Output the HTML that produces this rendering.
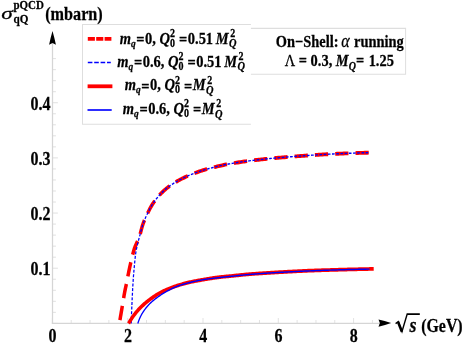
<!DOCTYPE html>
<html><head><meta charset="utf-8"><style>
html,body{margin:0;padding:0;background:#fff;}
svg{display:block;font-family:"Liberation Serif",serif;}
text{filter:grayscale(1);stroke:#000;stroke-width:0.22px;}
</style></head><body>
<svg width="463" height="344" viewBox="0 0 463 344">
<rect width="463" height="344" fill="#fff"/>
<g transform="scale(1,1.1)">
<g stroke="#e3e3e3" stroke-width="1" fill="none">
<line x1="52.40" y1="294.0" x2="52.40" y2="289.0"/><line x1="71.22" y1="294.0" x2="71.22" y2="290.82"/><line x1="90.05" y1="294.0" x2="90.05" y2="290.82"/><line x1="108.88" y1="294.0" x2="108.88" y2="290.82"/><line x1="127.70" y1="294.0" x2="127.70" y2="289.0"/><line x1="146.53" y1="294.0" x2="146.53" y2="290.82"/><line x1="165.35" y1="294.0" x2="165.35" y2="290.82"/><line x1="184.18" y1="294.0" x2="184.18" y2="290.82"/><line x1="203.00" y1="294.0" x2="203.00" y2="289.0"/><line x1="221.82" y1="294.0" x2="221.82" y2="290.82"/><line x1="240.65" y1="294.0" x2="240.65" y2="290.82"/><line x1="259.47" y1="294.0" x2="259.47" y2="290.82"/><line x1="278.30" y1="294.0" x2="278.30" y2="289.0"/><line x1="297.12" y1="294.0" x2="297.12" y2="290.82"/><line x1="315.95" y1="294.0" x2="315.95" y2="290.82"/><line x1="334.77" y1="294.0" x2="334.77" y2="290.82"/><line x1="353.60" y1="294.0" x2="353.60" y2="289.0"/><line x1="372.42" y1="294.0" x2="372.42" y2="290.82"/><line x1="52.4" y1="294.0" x2="57.9" y2="294.0"/><line x1="52.4" y1="283.97" x2="55.9" y2="283.97"/><line x1="52.4" y1="273.94" x2="55.9" y2="273.94"/><line x1="52.4" y1="263.91" x2="55.9" y2="263.91"/><line x1="52.4" y1="253.88" x2="55.9" y2="253.88"/><line x1="52.4" y1="243.85" x2="57.9" y2="243.85"/><line x1="52.4" y1="233.81" x2="55.9" y2="233.81"/><line x1="52.4" y1="223.78" x2="55.9" y2="223.78"/><line x1="52.4" y1="213.75" x2="55.9" y2="213.75"/><line x1="52.4" y1="203.72" x2="55.9" y2="203.72"/><line x1="52.4" y1="193.69" x2="57.9" y2="193.69"/><line x1="52.4" y1="183.66" x2="55.9" y2="183.66"/><line x1="52.4" y1="173.63" x2="55.9" y2="173.63"/><line x1="52.4" y1="163.6" x2="55.9" y2="163.6"/><line x1="52.4" y1="153.57" x2="55.9" y2="153.57"/><line x1="52.4" y1="143.54" x2="57.9" y2="143.54"/><line x1="52.4" y1="133.51" x2="55.9" y2="133.51"/><line x1="52.4" y1="123.47" x2="55.9" y2="123.47"/><line x1="52.4" y1="113.44" x2="55.9" y2="113.44"/><line x1="52.4" y1="103.41" x2="55.9" y2="103.41"/><line x1="52.4" y1="93.38" x2="57.9" y2="93.38"/><line x1="52.4" y1="83.35" x2="55.9" y2="83.35"/><line x1="52.4" y1="73.32" x2="55.9" y2="73.32"/><line x1="52.4" y1="63.29" x2="55.9" y2="63.29"/><line x1="52.4" y1="53.26" x2="55.9" y2="53.26"/>
</g>
<g stroke="#d5d5d5" fill="none">
<line x1="51.8" y1="294.0" x2="379" y2="294.0" stroke-width="1.05"/>
<line x1="52.5" y1="294.0" x2="52.5" y2="39.09" stroke-width="1.25"/>
</g>
<path d="M52.5,28.09 Q54.699999999999996,35.0 55.9,40.73 L52.5,39.18 L49.1,40.73 Q50.3,35.0 52.5,28.09 Z" fill="#000"/>
<path d="M391.2,293.73 Q384.5,291.55 378.5,290.36 L379.8,293.73 L378.5,297.09 Q384.5,295.91 391.2,293.73 Z" fill="#000"/>
<g font-weight="bold" fill="#000"><text transform="translate(52.6,310.64) scale(1,1.045)" font-size="16px" text-anchor="middle" >0</text><text transform="translate(127.9,310.64) scale(1,1.045)" font-size="16px" text-anchor="middle" >2</text><text transform="translate(203.2,310.64) scale(1,1.045)" font-size="16px" text-anchor="middle" >4</text><text transform="translate(278.5,310.64) scale(1,1.045)" font-size="16px" text-anchor="middle" >6</text><text transform="translate(353.8,310.64) scale(1,1.045)" font-size="16px" text-anchor="middle" >8</text><text transform="translate(50.6,250.09) scale(1,1.045)" font-size="16px" text-anchor="end" >0.1</text><text transform="translate(50.6,200.0) scale(1,1.045)" font-size="16px" text-anchor="end" >0.2</text><text transform="translate(50.6,149.82) scale(1,1.045)" font-size="16px" text-anchor="end" >0.3</text><text transform="translate(50.6,99.64) scale(1,1.045)" font-size="16px" text-anchor="end" >0.4</text></g>
<!-- curves -->
<path d="M119.90,291.09 L120.14,289.80 L120.39,288.52 L120.63,287.23 L120.88,285.94 L121.12,284.65 L121.36,283.37 L121.60,282.08 L121.84,280.79 L122.09,279.50 L122.33,278.22 L122.57,276.93 L122.80,275.64 L123.03,274.35 L123.26,273.06 L123.49,271.77 L123.73,270.48 L123.96,269.19 L124.21,267.90 L124.46,266.62 L124.72,265.34 L125.00,264.06 L125.30,262.78 L125.60,261.51 L125.91,260.23 L126.21,258.95 L126.49,257.68 L126.77,256.40 L127.05,255.11 L127.32,253.83 L127.59,252.55 L127.86,251.27 L128.13,249.99 L128.41,248.70 L128.69,247.43 L128.98,246.15 L129.28,244.87 L129.58,243.60 L129.89,242.32 L130.20,241.05 L130.51,239.77 L130.82,238.49 L131.14,237.21 L131.46,235.93 L131.79,234.66 L132.13,233.39 L132.48,232.12 L132.84,230.86 L133.22,229.61 L133.61,228.37 L134.01,227.13 L134.44,225.90 L134.90,224.69 L135.42,223.50 L136.00,222.32 L136.62,221.16 L137.24,219.99 L137.84,218.82 L138.42,217.64 L138.93,216.44 L139.39,215.22 L139.81,213.99 L140.20,212.73 L140.57,211.47 L140.93,210.21 L141.29,208.94 L141.66,207.68 L142.04,206.42 L142.45,205.18 L142.88,203.95 L143.36,202.74 L143.86,201.53 L144.39,200.33 L144.94,199.14 L145.51,197.95 L146.10,196.78 L146.70,195.61 L147.31,194.45 L147.92,193.30 L148.55,192.15 L149.20,191.00 L149.85,189.86 L150.53,188.73 L151.22,187.61 L151.94,186.51 L152.67,185.43 L153.43,184.37 L154.21,183.34 L155.03,182.32 L155.88,181.31 L156.75,180.32 L157.64,179.34 L158.54,178.39 L159.46,177.46 L160.39,176.54 L161.34,175.64 L162.31,174.76 L163.30,173.89 L164.31,173.05 L165.33,172.22 L166.37,171.43 L167.42,170.66 L168.49,169.91 L169.58,169.18 L170.68,168.46 L171.80,167.77 L172.92,167.09 L174.06,166.43 L175.21,165.79 L176.36,165.17 L177.51,164.56 L178.68,163.98 L179.86,163.40 L181.05,162.84 L182.24,162.29 L183.44,161.76 L184.65,161.24 L185.86,160.73 L187.07,160.23 L188.28,159.75 L189.50,159.27 L190.73,158.81 L191.95,158.35 L193.19,157.91 L194.43,157.48 L195.67,157.05 L196.92,156.64 L198.16,156.24 L199.41,155.85 L200.66,155.47 L201.92,155.09 L203.18,154.73 L204.44,154.38 L205.71,154.04 L206.98,153.71 L208.25,153.39 L209.52,153.08 L210.79,152.78 L212.07,152.48 L213.35,152.18 L214.62,151.89 L215.90,151.60 L217.18,151.32 L218.47,151.04 L219.75,150.77 L221.03,150.50 L222.32,150.24 L223.61,149.99 L224.89,149.75 L226.18,149.51 L227.47,149.29 L228.76,149.07 L230.05,148.86 L231.34,148.66 L232.64,148.46 L233.93,148.26 L235.23,148.07 L236.52,147.88 L237.82,147.70 L239.12,147.52 L240.42,147.34 L241.72,147.17 L243.02,147.00 L244.32,146.83 L245.62,146.67 L246.92,146.51 L248.22,146.35 L249.53,146.20 L250.83,146.05 L252.13,145.90 L253.43,145.76 L254.74,145.62 L256.04,145.48 L257.34,145.34 L258.65,145.21 L259.95,145.08 L261.25,144.95 L262.55,144.82 L263.86,144.70 L265.16,144.57 L266.47,144.45 L267.77,144.33 L269.08,144.21 L270.38,144.10 L271.69,143.98 L272.99,143.87 L274.30,143.76 L275.60,143.65 L276.91,143.54 L278.22,143.43 L279.52,143.33 L280.83,143.23 L282.13,143.12 L283.44,143.02 L284.75,142.92 L286.06,142.83 L287.36,142.73 L288.67,142.63 L289.98,142.54 L291.28,142.45 L292.59,142.36 L293.90,142.26 L295.20,142.17 L296.51,142.09 L297.82,142.00 L299.13,141.91 L300.43,141.83 L301.74,141.74 L303.05,141.65 L304.35,141.57 L305.66,141.49 L306.97,141.40 L308.28,141.32 L309.59,141.24 L310.89,141.16 L312.20,141.08 L313.51,141.00 L314.82,140.92 L316.13,140.84 L317.43,140.77 L318.74,140.69 L320.05,140.62 L321.36,140.55 L322.67,140.48 L323.98,140.41 L325.28,140.34 L326.59,140.27 L327.90,140.21 L329.21,140.14 L330.52,140.08 L331.83,140.02 L333.14,139.96 L334.44,139.91 L335.75,139.85 L337.06,139.80 L338.37,139.75 L339.68,139.70 L340.99,139.65 L342.30,139.60 L343.61,139.55 L344.92,139.50 L346.23,139.45 L347.53,139.40 L348.84,139.36 L350.15,139.31 L351.46,139.27 L352.77,139.23 L354.08,139.18 L355.39,139.14 L356.70,139.10 L358.01,139.06 L359.32,139.03 L360.63,138.99 L361.94,138.96 L363.25,138.92 L364.56,138.89 L365.87,138.86 L367.18,138.83 L368.49,138.80 L369.80,138.77" fill="none" stroke="#f00" stroke-width="3.5" stroke-dasharray="13.25,7.07"/>
<path d="M131.20,294.00 L131.25,292.69 L131.30,291.38 L131.35,290.06 L131.40,288.75 L131.45,287.44 L131.50,286.13 L131.56,284.81 L131.61,283.50 L131.67,282.19 L131.73,280.88 L131.79,279.57 L131.85,278.25 L131.92,276.94 L131.98,275.63 L132.04,274.32 L132.11,273.01 L132.17,271.70 L132.24,270.38 L132.31,269.07 L132.38,267.76 L132.45,266.45 L132.53,265.14 L132.60,263.83 L132.68,262.51 L132.76,261.20 L132.84,259.89 L132.92,258.58 L133.01,257.27 L133.10,255.96 L133.19,254.65 L133.29,253.34 L133.39,252.04 L133.50,250.73 L133.62,249.42 L133.74,248.11 L133.86,246.80 L133.99,245.50 L134.12,244.19 L134.25,242.88 L134.39,241.58 L134.52,240.27 L134.66,238.96 L134.79,237.65 L134.93,236.35 L135.08,235.04 L135.23,233.73 L135.40,232.43 L135.58,231.13 L135.78,229.84 L136.01,228.55 L136.27,227.26 L136.55,225.98 L136.85,224.69 L137.16,223.42 L137.48,222.14 L137.81,220.88 L138.17,219.61 L138.55,218.35 L138.93,217.10 L139.31,215.84 L139.69,214.58 L140.06,213.32 L140.42,212.05 L140.77,210.78 L141.13,209.51 L141.49,208.25 L141.87,206.99 L142.27,205.74 L142.69,204.50 L143.14,203.28 L143.62,202.06 L144.14,200.86 L144.68,199.66 L145.25,198.47 L145.83,197.29 L146.44,196.11 L147.04,194.95 L147.66,193.79 L148.28,192.64 L148.92,191.48 L149.57,190.34 L150.24,189.20 L150.93,188.07 L151.64,186.96 L152.36,185.87 L153.11,184.80 L153.89,183.76 L154.69,182.73 L155.53,181.71 L156.39,180.71 L157.28,179.73 L158.18,178.77 L159.10,177.82 L160.03,176.90 L160.97,175.99 L161.93,175.10 L162.92,174.22 L163.92,173.37 L164.94,172.53 L165.98,171.72 L167.03,170.94 L168.09,170.19 L169.17,169.45 L170.27,168.72 L171.39,168.02 L172.51,167.33 L173.65,166.66 L174.80,166.01 L175.95,165.39 L177.10,164.78 L178.27,164.18 L179.45,163.60 L180.63,163.03 L181.83,162.48 L183.03,161.94 L184.24,161.41 L185.45,160.90 L186.66,160.40 L187.88,159.91 L189.10,159.43 L190.32,158.96 L191.55,158.50 L192.79,158.05 L194.03,157.61 L195.27,157.19 L196.52,156.77 L197.77,156.36 L199.02,155.97 L200.28,155.58 L201.53,155.21 L202.80,154.84 L204.06,154.49 L205.33,154.14 L206.60,153.81 L207.87,153.48 L209.15,153.17 L210.42,152.86 L211.70,152.56 L212.98,152.26 L214.26,151.97 L215.54,151.68 L216.83,151.39 L218.11,151.11 L219.40,150.84 L220.69,150.57 L221.97,150.31 L223.26,150.06 L224.55,149.81 L225.85,149.57 L227.14,149.35 L228.43,149.13 L229.72,148.92 L231.02,148.71 L232.32,148.51 L233.61,148.31 L234.91,148.12 L236.21,147.93 L237.51,147.74 L238.81,147.56 L240.11,147.38 L241.41,147.21 L242.72,147.04 L244.02,146.87 L245.33,146.71 L246.63,146.55 L247.94,146.39 L249.24,146.23 L250.55,146.08 L251.85,145.93 L253.16,145.79 L254.47,145.65 L255.77,145.51 L257.08,145.37 L258.38,145.23 L259.69,145.10 L260.99,144.97 L262.30,144.85 L263.61,144.72 L264.91,144.60 L266.22,144.47 L267.53,144.35 L268.84,144.23 L270.15,144.12 L271.45,144.00 L272.76,143.89 L274.07,143.78 L275.38,143.67 L276.69,143.56 L278.00,143.45 L279.31,143.35 L280.62,143.24 L281.93,143.14 L283.24,143.04 L284.55,142.94 L285.86,142.84 L287.17,142.74 L288.48,142.65 L289.79,142.55 L291.10,142.46 L292.41,142.37 L293.72,142.28 L295.03,142.19 L296.34,142.10 L297.65,142.01 L298.96,141.92 L300.27,141.84 L301.58,141.75 L302.89,141.66 L304.20,141.58 L305.51,141.50 L306.82,141.41 L308.13,141.33 L309.44,141.25 L310.75,141.17 L312.06,141.08 L313.38,141.01 L314.69,140.93 L316.00,140.85 L317.31,140.77 L318.62,140.70 L319.93,140.63 L321.24,140.55 L322.55,140.48 L323.87,140.41 L325.18,140.34 L326.49,140.28 L327.80,140.21 L329.11,140.15 L330.42,140.09 L331.74,140.03 L333.05,139.97 L334.36,139.91 L335.67,139.86 L336.98,139.80 L338.30,139.75 L339.61,139.70 L340.92,139.65 L342.23,139.60 L343.54,139.55 L344.86,139.50 L346.17,139.45 L347.48,139.41 L348.79,139.36 L350.11,139.31 L351.42,139.27 L352.73,139.23 L354.04,139.19 L355.36,139.14 L356.67,139.10 L357.98,139.07 L359.30,139.03 L360.61,138.99 L361.92,138.96 L363.23,138.92 L364.55,138.89 L365.86,138.86 L367.17,138.83 L368.49,138.80 L369.80,138.77" fill="none" stroke="#00f" stroke-width="1.25" stroke-dasharray="2.7,1.5"/>
<path d="M128.60,294.00 L129.14,293.15 L129.69,292.30 L130.26,291.46 L130.83,290.64 L131.41,289.82 L132.01,289.01 L132.61,288.22 L133.23,287.43 L133.85,286.65 L134.48,285.89 L135.13,285.14 L135.78,284.39 L136.44,283.66 L137.11,282.94 L137.79,282.23 L138.49,281.53 L139.20,280.83 L139.93,280.14 L140.67,279.46 L141.41,278.79 L142.17,278.12 L142.94,277.47 L143.71,276.83 L144.49,276.19 L145.28,275.57 L146.07,274.97 L146.86,274.37 L147.66,273.79 L148.47,273.21 L149.28,272.65 L150.10,272.09 L150.93,271.54 L151.77,270.99 L152.61,270.45 L153.47,269.92 L154.33,269.40 L155.19,268.89 L156.06,268.39 L156.94,267.89 L157.82,267.41 L158.70,266.94 L159.59,266.49 L160.48,266.04 L161.37,265.61 L162.27,265.20 L163.17,264.79 L164.08,264.39 L164.99,264.00 L165.91,263.62 L166.84,263.25 L167.77,262.88 L168.71,262.53 L169.65,262.18 L170.59,261.84 L171.54,261.51 L172.48,261.19 L173.43,260.87 L174.38,260.56 L175.33,260.27 L176.28,259.97 L177.24,259.69 L178.19,259.41 L179.15,259.14 L180.11,258.87 L181.07,258.61 L182.04,258.35 L183.01,258.10 L183.98,257.86 L184.95,257.62 L185.92,257.39 L186.89,257.17 L187.87,256.95 L188.84,256.74 L189.82,256.53 L190.79,256.34 L191.77,256.15 L192.75,255.96 L193.73,255.78 L194.71,255.61 L195.69,255.44 L196.68,255.27 L197.66,255.11 L198.65,254.95 L199.63,254.80 L200.62,254.64 L201.60,254.49 L202.59,254.34 L203.58,254.19 L204.56,254.04 L205.55,253.88 L206.53,253.73 L207.52,253.58 L208.50,253.43 L209.49,253.28 L210.48,253.13 L211.46,252.98 L212.45,252.84 L213.44,252.70 L214.43,252.57 L215.42,252.44 L216.40,252.31 L217.39,252.19 L218.38,252.08 L219.37,251.98 L220.37,251.87 L221.36,251.78 L222.35,251.68 L223.34,251.59 L224.34,251.50 L225.33,251.42 L226.32,251.33 L227.32,251.25 L228.31,251.17 L229.31,251.08 L230.30,251.00 L231.29,250.91 L232.29,250.82 L233.28,250.73 L234.27,250.63 L235.26,250.54 L236.26,250.44 L237.25,250.35 L238.24,250.25 L239.24,250.16 L240.23,250.06 L241.22,249.96 L242.21,249.87 L243.21,249.78 L244.20,249.69 L245.19,249.60 L246.19,249.51 L247.18,249.43 L248.17,249.35 L249.17,249.28 L250.16,249.20 L251.16,249.13 L252.15,249.06 L253.14,248.99 L254.14,248.92 L255.13,248.86 L256.13,248.79 L257.12,248.73 L258.12,248.67 L259.11,248.60 L260.11,248.54 L261.10,248.48 L262.10,248.42 L263.10,248.36 L264.09,248.31 L265.09,248.25 L266.08,248.19 L267.08,248.14 L268.07,248.08 L269.07,248.03 L270.07,247.97 L271.06,247.92 L272.06,247.86 L273.05,247.81 L274.05,247.76 L275.04,247.70 L276.04,247.65 L277.04,247.60 L278.03,247.54 L279.03,247.49 L280.02,247.44 L281.02,247.39 L282.01,247.33 L283.01,247.28 L284.01,247.23 L285.00,247.18 L286.00,247.13 L286.99,247.07 L287.99,247.02 L288.99,246.97 L289.98,246.92 L290.98,246.88 L291.97,246.83 L292.97,246.78 L293.97,246.73 L294.96,246.68 L295.96,246.64 L296.95,246.59 L297.95,246.55 L298.95,246.50 L299.94,246.46 L300.94,246.41 L301.93,246.37 L302.93,246.33 L303.93,246.29 L304.92,246.25 L305.92,246.21 L306.92,246.17 L307.91,246.13 L308.91,246.10 L309.90,246.06 L310.90,246.03 L311.90,245.99 L312.89,245.96 L313.89,245.92 L314.89,245.89 L315.88,245.86 L316.88,245.83 L317.88,245.80 L318.87,245.76 L319.87,245.73 L320.87,245.70 L321.86,245.67 L322.86,245.64 L323.86,245.61 L324.85,245.59 L325.85,245.56 L326.85,245.53 L327.84,245.50 L328.84,245.47 L329.84,245.45 L330.83,245.42 L331.83,245.39 L332.83,245.37 L333.82,245.34 L334.82,245.31 L335.82,245.29 L336.82,245.26 L337.81,245.24 L338.81,245.21 L339.81,245.19 L340.80,245.16 L341.80,245.14 L342.80,245.11 L343.79,245.09 L344.79,245.06 L345.79,245.04 L346.78,245.02 L347.78,244.99 L348.78,244.97 L349.77,244.95 L350.77,244.92 L351.77,244.90 L352.76,244.88 L353.76,244.86 L354.76,244.83 L355.76,244.81 L356.75,244.79 L357.75,244.77 L358.75,244.75 L359.74,244.73 L360.74,244.70 L361.74,244.68 L362.73,244.66 L363.73,244.64 L364.73,244.62 L365.72,244.60 L366.72,244.58 L367.72,244.56 L368.72,244.55 L369.71,244.53 L370.71,244.51 L371.71,244.49 L372.70,244.47 L373.70,244.45" fill="none" stroke="#f00" stroke-width="3.4"/>
<path d="M137.80,294.00 L138.13,293.09 L138.47,292.19 L138.84,291.30 L139.22,290.42 L139.62,289.55 L140.04,288.70 L140.47,287.86 L140.93,287.04 L141.40,286.23 L141.90,285.42 L142.42,284.62 L142.96,283.83 L143.53,283.05 L144.11,282.28 L144.71,281.52 L145.32,280.78 L145.95,280.04 L146.58,279.33 L147.23,278.63 L147.88,277.95 L148.54,277.28 L149.22,276.63 L149.92,275.99 L150.64,275.36 L151.37,274.74 L152.12,274.14 L152.88,273.54 L153.64,272.96 L154.42,272.39 L155.19,271.83 L155.97,271.28 L156.75,270.74 L157.54,270.20 L158.34,269.68 L159.14,269.17 L159.95,268.67 L160.77,268.18 L161.60,267.69 L162.43,267.22 L163.27,266.75 L164.10,266.30 L164.94,265.85 L165.79,265.41 L166.63,264.96 L167.48,264.53 L168.34,264.09 L169.19,263.66 L170.05,263.24 L170.92,262.83 L171.79,262.43 L172.66,262.04 L173.54,261.67 L174.42,261.31 L175.30,260.96 L176.19,260.64 L177.09,260.33 L177.99,260.03 L178.89,259.73 L179.80,259.45 L180.71,259.17 L181.63,258.90 L182.55,258.64 L183.47,258.39 L184.40,258.14 L185.32,257.90 L186.25,257.66 L187.18,257.43 L188.11,257.21 L189.04,256.99 L189.97,256.78 L190.90,256.57 L191.83,256.37 L192.76,256.17 L193.69,255.97 L194.62,255.78 L195.56,255.59 L196.50,255.40 L197.44,255.22 L198.37,255.05 L199.31,254.88 L200.25,254.71 L201.20,254.56 L202.14,254.40 L203.08,254.26 L204.02,254.12 L204.96,253.98 L205.91,253.85 L206.85,253.73 L207.80,253.61 L208.74,253.50 L209.69,253.38 L210.64,253.28 L211.59,253.17 L212.54,253.06 L213.48,252.96 L214.43,252.86 L215.38,252.76 L216.33,252.66 L217.28,252.56 L218.23,252.46 L219.18,252.36 L220.13,252.26 L221.07,252.17 L222.02,252.07 L222.97,251.98 L223.92,251.89 L224.87,251.79 L225.82,251.70 L226.77,251.61 L227.72,251.52 L228.67,251.43 L229.62,251.34 L230.57,251.25 L231.52,251.16 L232.47,251.08 L233.41,250.99 L234.36,250.89 L235.31,250.80 L236.26,250.71 L237.21,250.62 L238.16,250.53 L239.11,250.44 L240.06,250.35 L241.01,250.26 L241.96,250.17 L242.91,250.08 L243.86,249.99 L244.81,249.91 L245.76,249.83 L246.71,249.75 L247.66,249.67 L248.61,249.59 L249.56,249.52 L250.51,249.45 L251.46,249.38 L252.41,249.31 L253.36,249.24 L254.31,249.17 L255.27,249.10 L256.22,249.04 L257.17,248.97 L258.12,248.91 L259.07,248.84 L260.02,248.78 L260.97,248.72 L261.93,248.66 L262.88,248.60 L263.83,248.54 L264.78,248.48 L265.73,248.42 L266.69,248.36 L267.64,248.31 L268.59,248.25 L269.54,248.19 L270.49,248.14 L271.45,248.09 L272.40,248.03 L273.35,247.98 L274.30,247.93 L275.25,247.87 L276.21,247.82 L277.16,247.77 L278.11,247.72 L279.06,247.67 L280.01,247.62 L280.97,247.57 L281.92,247.52 L282.87,247.47 L283.82,247.42 L284.78,247.37 L285.73,247.32 L286.68,247.27 L287.63,247.22 L288.59,247.18 L289.54,247.13 L290.49,247.08 L291.44,247.04 L292.40,246.99 L293.35,246.95 L294.30,246.90 L295.25,246.86 L296.21,246.81 L297.16,246.77 L298.11,246.73 L299.07,246.68 L300.02,246.64 L300.97,246.60 L301.92,246.56 L302.88,246.52 L303.83,246.48 L304.78,246.44 L305.73,246.40 L306.69,246.37 L307.64,246.33 L308.59,246.29 L309.55,246.26 L310.50,246.22 L311.45,246.18 L312.40,246.15 L313.36,246.11 L314.31,246.08 L315.26,246.05 L316.22,246.01 L317.17,245.98 L318.12,245.95 L319.08,245.91 L320.03,245.88 L320.98,245.85 L321.93,245.82 L322.89,245.78 L323.84,245.75 L324.79,245.72 L325.75,245.69 L326.70,245.66 L327.65,245.63 L328.61,245.60 L329.56,245.57 L330.51,245.54 L331.47,245.52 L332.42,245.49 L333.37,245.46 L334.33,245.43 L335.28,245.41 L336.23,245.38 L337.19,245.35 L338.14,245.33 L339.09,245.30 L340.05,245.28 L341.00,245.25 L341.95,245.23 L342.91,245.20 L343.86,245.18 L344.81,245.15 L345.76,245.13 L346.72,245.11 L347.67,245.08 L348.62,245.06 L349.58,245.04 L350.53,245.02 L351.48,245.00 L352.44,244.97 L353.39,244.95 L354.34,244.93 L355.30,244.91 L356.25,244.89 L357.21,244.87 L358.16,244.85 L359.11,244.83 L360.07,244.81 L361.02,244.79 L361.97,244.77 L362.93,244.76 L363.88,244.74 L364.83,244.72 L365.79,244.70 L366.74,244.69 L367.69,244.67 L368.65,244.65 L369.60,244.64" fill="none" stroke="#00f" stroke-width="1.3"/>
<!-- legend -->
<g fill="none" stroke="#dedede" stroke-width="1">
<path d="M250.9,22.27 L82.5,22.27 L82.5,112.91 L250.9,112.91"/>
<path d="M250.9,25.82 L405.6,25.82 L405.6,67.45 L250.9,67.45"/>
</g>
<line x1="87.8" y1="35.32" x2="111.4" y2="35.32" stroke="#f00" stroke-width="3.45" stroke-dasharray="7.1,1.3"/>
<line x1="87.8" y1="56.91" x2="110.8" y2="56.91" stroke="#00f" stroke-width="1.4" stroke-dasharray="4.6,1.8"/>
<line x1="87.6" y1="78.45" x2="112.4" y2="78.45" stroke="#f00" stroke-width="3.45"/>
<line x1="87.5" y1="100.0" x2="111.7" y2="100.0" stroke="#00f" stroke-width="1.5"/>
<g font-weight="bold" fill="#000">
<text transform="translate(119.7,39.55) scale(1,1.045)" font-size="14.5px" text-anchor="start" font-style="italic"><tspan>m</tspan><tspan font-size="9.5px" dy="2.6">q</tspan><tspan dy="-1.4000000000000001" dx="0.6" font-style="normal">=</tspan><tspan dx="0.5" dy="-1.2" font-style="normal">0,</tspan><tspan dx="0"> Q</tspan><tspan font-size="10px" dy="2.6" font-style="normal">0</tspan><tspan font-size="10px" dy="-8.4" dx="-5" font-style="normal">2</tspan><tspan dy="7.0" dx="0.3" font-style="normal"> =</tspan><tspan dx="0.5" dy="-1.2" font-style="normal">0.51 </tspan><tspan dx="-1.0" dy="0">M</tspan><tspan font-size="10.4px" dx="0.3" dy="3.2">Q</tspan><tspan font-size="10px" dy="-9.2" dx="-6.3" font-style="normal">2</tspan></text>
<text transform="translate(117.3,60.73) scale(1,1.045)" font-size="14.5px" text-anchor="start" font-style="italic"><tspan>m</tspan><tspan font-size="9.5px" dy="2.6">q</tspan><tspan dy="-1.4000000000000001" dx="0.6" font-style="normal">=</tspan><tspan dx="0.5" dy="-1.2" font-style="normal">0.6,</tspan><tspan dx="0"> Q</tspan><tspan font-size="10px" dy="2.6" font-style="normal">0</tspan><tspan font-size="10px" dy="-8.4" dx="-5" font-style="normal">2</tspan><tspan dy="7.0" dx="0.3" font-style="normal"> =</tspan><tspan dx="0.5" dy="-1.2" font-style="normal">0.51 </tspan><tspan dx="-1.0" dy="0">M</tspan><tspan font-size="10.4px" dx="0.3" dy="3.2">Q</tspan><tspan font-size="10px" dy="-9.2" dx="-6.3" font-style="normal">2</tspan></text>
<text transform="translate(124.7,82.27) scale(1,1.045)" font-size="14.5px" text-anchor="start" font-style="italic"><tspan>m</tspan><tspan font-size="9.5px" dy="2.6">q</tspan><tspan dy="-1.4000000000000001" dx="0.6" font-style="normal">=</tspan><tspan dx="0.5" dy="-1.2" font-style="normal">0,</tspan><tspan dx="0"> Q</tspan><tspan font-size="10px" dy="2.6" font-style="normal">0</tspan><tspan font-size="10px" dy="-8.4" dx="-5" font-style="normal">2</tspan><tspan dy="7.0" dx="0.3" font-style="normal"> =</tspan><tspan dx="0.6" dy="-1.2">M</tspan><tspan font-size="10.4px" dx="0.3" dy="3.2">Q</tspan><tspan font-size="10px" dy="-9.2" dx="-6.3" font-style="normal">2</tspan></text>
<text transform="translate(122.8,103.55) scale(1,1.045)" font-size="14.5px" text-anchor="start" font-style="italic"><tspan>m</tspan><tspan font-size="9.5px" dy="2.6">q</tspan><tspan dy="-1.4000000000000001" dx="0.6" font-style="normal">=</tspan><tspan dx="0.5" dy="-1.2" font-style="normal">0.6,</tspan><tspan dx="0"> Q</tspan><tspan font-size="10px" dy="2.6" font-style="normal">0</tspan><tspan font-size="10px" dy="-8.4" dx="-5" font-style="normal">2</tspan><tspan dy="7.0" dx="0.3" font-style="normal"> =</tspan><tspan dx="0.6" dy="-1.2">M</tspan><tspan font-size="10.4px" dx="0.3" dy="3.2">Q</tspan><tspan font-size="10px" dy="-9.2" dx="-6.3" font-style="normal">2</tspan></text>
</g>
<g font-weight="bold" fill="#000">
<text transform="translate(275.7,43.09) scale(1,1.045)" font-size="14.45px" text-anchor="start" >On&#8722;Shell:<tspan font-style="italic" font-weight="normal" font-size="16px" dx="-1.1"> &#945;</tspan><tspan dx="0.7"> running</tspan></text>
<text transform="translate(284.7,60.09) scale(1,1.045)" font-size="14.45px" text-anchor="start" ><tspan font-weight="normal">&#923;</tspan> = 0.3, <tspan font-style="italic">M</tspan><tspan font-style="italic" font-size="10px" dy="3">Q</tspan><tspan dy="-3">=</tspan><tspan dx="0.9"> 1.25</tspan></text>
</g>
<!-- title -->
<g font-weight="bold" fill="#000">
<text transform="translate(1.2,17.55) scale(1.6,1.045)" font-size="14.6px" font-style="italic" font-weight="normal">&#963;</text>
<text transform="translate(13.4,8.45) scale(1,1.045)" font-size="11px" text-anchor="start" >pQCD</text>
<text transform="translate(13.5,21.09) scale(1,1.045)" font-size="11.2px" text-anchor="start" >qQ</text>
<text transform="translate(45.2,17.73) scale(1,1.045)" font-size="16.2px" text-anchor="start" >(mbarn)</text>
</g>
<!-- x label -->
<g fill="#000">
<path d="M395.6,294.18 L398.3,292.36 L402,301.36 L407.2,285.55 L419.8,285.55" fill="none" stroke="#000" stroke-width="1.4" stroke-linejoin="miter"/>
<path d="M398.0,292.55 L401.9,301.64" fill="none" stroke="#000" stroke-width="2.6"/>
<text transform="translate(409.6,301.91) scale(1,1.045)" font-size="18px" text-anchor="start" font-style="italic" font-weight="bold">s</text>
<text transform="translate(421.2,302.0) scale(1,1.045)" font-size="15.9px" text-anchor="start" font-weight="bold">(GeV)</text>
</g>
</g>
</svg>
</body></html>
